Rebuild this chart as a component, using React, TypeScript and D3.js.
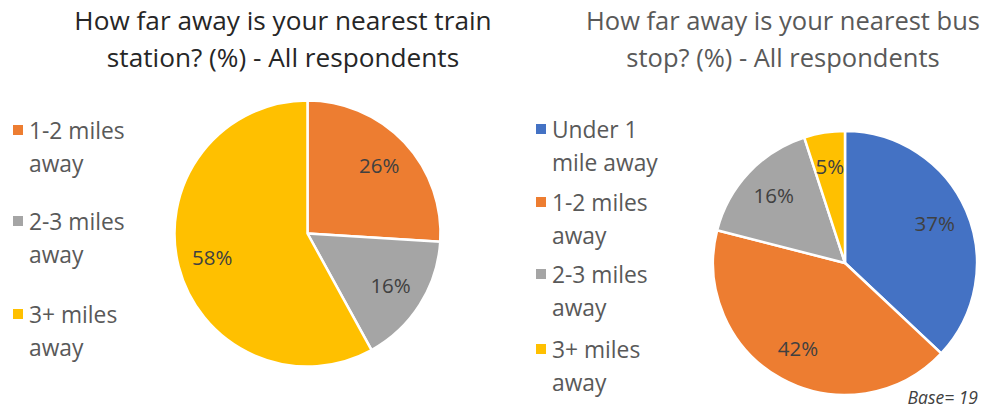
import React from "react";
import * as d3 from "d3";

const trainCategories = ["1-2 miles away", "2-3 miles away", "3+ miles away"];
const trainValues = [26, 16, 58];
const trainColors = ["#ED7D31", "#A5A5A5", "#FFC000"];

const busCategories = ["Under 1 mile away", "1-2 miles away", "2-3 miles away", "3+ miles away"];
const busValues = [37, 42, 16, 5];
const busColors = ["#4472C4", "#ED7D31", "#A5A5A5", "#FFC000"];

const trainTitle = ["How far away is your nearest train", "station? (%) - All respondents"];
const busTitle = ["How far away is your nearest bus", "stop? (%) - All respondents"];

const trainLegend = [["1-2 miles", "away"], ["2-3 miles", "away"], ["3+ miles", "away"]];
const busLegend = [["Under 1", "mile away"], ["1-2 miles", "away"], ["2-3 miles", "away"], ["3+ miles", "away"]];

const FONT = "'Open Sans', sans-serif";

function Pie({ cx, cy, r, values, colors }: { cx: number; cy: number; r: number; values: number[]; colors: string[] }) {
  const arcs = d3.pie<number>().sort(null).value((d) => d)(values);
  const arc = d3.arc<d3.PieArcDatum<number>>().innerRadius(0).outerRadius(r);
  const labelArc = d3.arc<d3.PieArcDatum<number>>().innerRadius(r * 0.74).outerRadius(r * 0.74);
  return (
    <g transform={`translate(${cx},${cy})`}>
      {arcs.map((a, i) => (
        <path key={i} d={arc(a) || ""} fill={colors[i]} stroke="#fff" strokeWidth={2.5} strokeLinejoin="round" />
      ))}
      {arcs.map((a, i) => {
        const [x, y] = labelArc.centroid(a);
        return (
          <text key={"l" + i} x={x} y={y} dy="0.35em" textAnchor="middle" fontSize={20.5} fill="#404040" fontFamily={FONT}>
            {values[i]}%
          </text>
        );
      })}
    </g>
  );
}

function Legend({ x, ys, items, colors }: { x: number; ys: number[]; items: string[][]; colors: string[] }) {
  return (
    <g>
      {items.map((lines, i) => (
        <g key={i}>
          <rect x={x} y={ys[i] - 6} width={10} height={10} fill={colors[i]} />
          {lines.map((t, j) => (
            <text key={j} x={x + 16} y={ys[i] + j * 33} dy="0.35em" fontSize={22.8} fill="#595959" fontFamily={FONT}>
              {t}
            </text>
          ))}
        </g>
      ))}
    </g>
  );
}

export default function App() {
  return (
    <svg width={987} height={412} style={{ position: "absolute", left: 0, top: 0, background: "#fff" }}>
      {trainTitle.map((t, i) => (
        <text key={i} x={283} y={21 + i * 37} dy="0.35em" textAnchor="middle" fontSize={26.2} fontWeight={400} fill="#262626" fontFamily={FONT}>
          {t}
        </text>
      ))}
      {busTitle.map((t, i) => (
        <text key={i} x={783} y={21 + i * 37} dy="0.35em" textAnchor="middle" fontSize={25.5} fontWeight={400} fill="#595959" fontFamily={FONT}>
          {t}
        </text>
      ))}
      <Legend x={13} ys={[131, 222, 315]} items={trainLegend} colors={trainColors} />
      <Legend x={536} ys={[130, 203, 275, 350]} items={busLegend} colors={busColors} />
      <Pie cx={307.5} cy={233.5} r={133} values={trainValues} colors={trainColors} />
      <Pie cx={845} cy={263} r={132} values={busValues} colors={busColors} />
      <text x={978} y={398} dy="0.35em" textAnchor="end" fontSize={17.5} fontStyle="italic" fill="#404040" fontFamily={FONT}>
        Base= 19
      </text>
    </svg>
  );
}
